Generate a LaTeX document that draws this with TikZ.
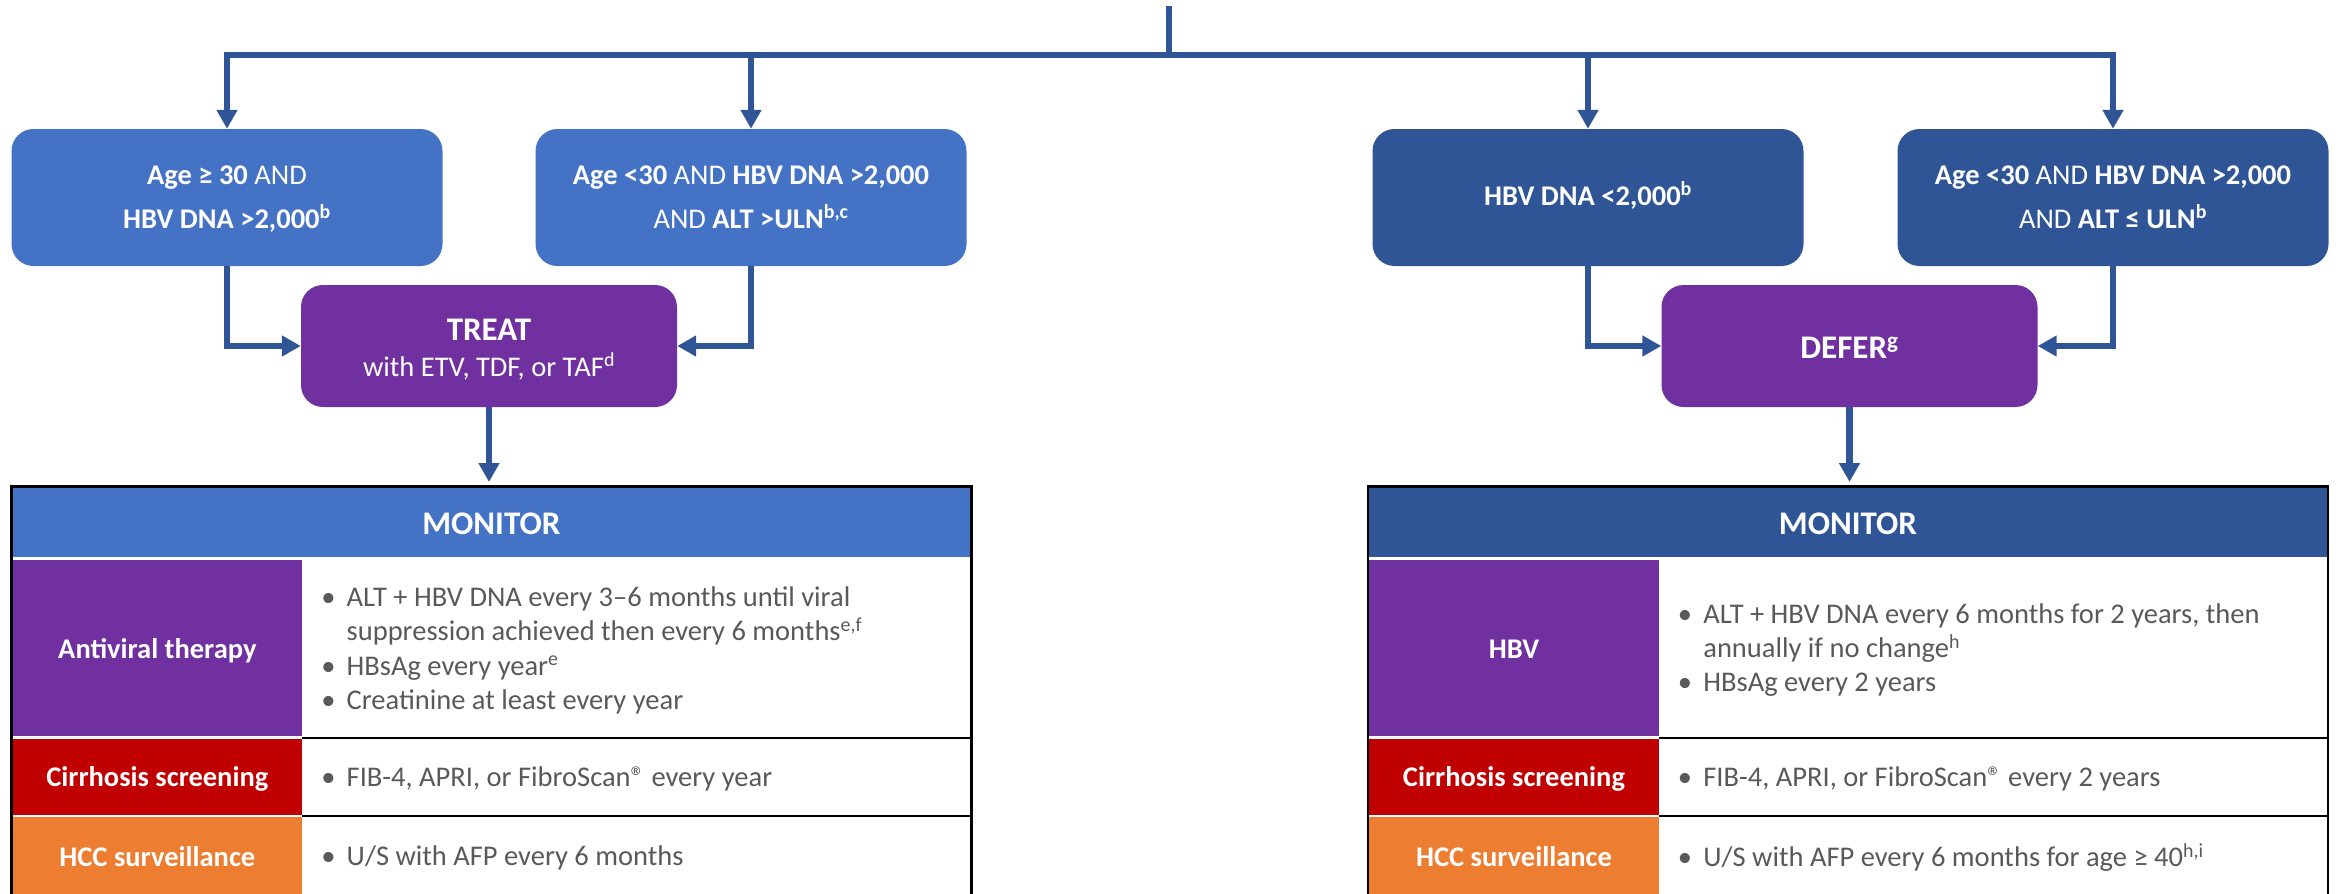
\documentclass[tikz,border=0pt]{standalone}
\usepackage{fontspec}
\setmainfont{Carlito}
\usetikzlibrary{arrows.meta}
\definecolor{lblue}{HTML}{4472C4}
\definecolor{dblue}{HTML}{2F5597}
\definecolor{purp}{HTML}{7030A0}
\definecolor{cred}{HTML}{C00000}
\definecolor{corange}{HTML}{ED7D31}
\definecolor{arrowc}{HTML}{2F5597}
\definecolor{txtgray}{HTML}{595959}
\newcommand{\bodyfont}{\fontsize{28.5}{34}\selectfont}
\newcommand{\bigfont}{\fontsize{33}{40}\selectfont}
\begin{document}
\begin{tikzpicture}[x=1pt,y=-1pt,
  cbox/.style={rounded corners=22pt, minimum width=431pt, minimum height=137pt, inner sep=0pt, draw=none},
  abox/.style={rounded corners=22pt, minimum width=376pt, minimum height=122pt, inner sep=0pt, fill=purp},
  wt/.style={text=white, font=\bodyfont, anchor=base, inner sep=0pt},
  wtb/.style={wt, font=\bodyfont\bfseries},
  big/.style={text=white, font=\bigfont\bfseries, anchor=base, inner sep=0pt},
  gt/.style={text=txtgray, font=\bodyfont, anchor=base west, inner sep=0pt},
  bul/.style={text=txtgray, font=\bodyfont, anchor=base, inner sep=0pt},
  conn/.style={draw=arrowc, line width=6.5pt},
  arr/.style={conn, -{Triangle[length=19pt,width=20pt]}},
  frame/.style={draw=black, line width=2.7pt},
  sep/.style={draw=black, line width=2pt},
]
\useasboundingbox (0,0) rectangle (2338,894);
\clip (0,0) rectangle (2338,894);

% condition boxes
\node[cbox, fill=lblue] (b1) at (227,197.5) {};
\node[cbox, fill=lblue] (b2) at (751,197.5) {};
\node[cbox, fill=dblue] (b3) at (1588,197.5) {};
\node[cbox, fill=dblue] (b4) at (2113,197.5) {};
\node[abox] (treat) at (489,346) {};
\node[abox] (defer) at (1849.5,346) {};

\node[wt] (b1t1) at (227,184.5) {\textbf{Age ≥ 30} AND};
\node[wt] (b1t2) at (227,228) {\textbf{HBV DNA >2,000\textsuperscript{b}}};
\node[wt] (b2t1) at (751,184.5) {\textbf{Age <30} AND \textbf{HBV DNA >2,000}};
\node[wt] (b2t2) at (751,228) {AND \textbf{ALT >ULN\textsuperscript{b,c}}};
\node[wt] (b3t1) at (1588,205) {\textbf{HBV DNA <2,000\textsuperscript{b}}};
\node[wt] (b4t1) at (2113,184.5) {\textbf{Age <30} AND \textbf{HBV DNA >2,000}};
\node[wt] (b4t2) at (2113,228) {AND \textbf{ALT ≤ ULN\textsuperscript{b}}};
\node[big] (treatt) at (489,340) {TREAT};
\node[wt] (treatt2) at (489,376) {with ETV, TDF, or TAF\textsuperscript{d}};
\node[big] (defert) at (1849.5,358) {DEFER\textsuperscript{g}};

% connectors
\coordinate (top) at (1169,6);
\coordinate (bus) at (1169,55);
\coordinate (m1) at (489,482);
\coordinate (m2) at (1849.5,482);
\draw[conn] (top) -- (bus);
\draw[conn, line cap=rect] (b1.north |- bus) -- (b4.north |- bus);
\draw[arr] (b1.north |- bus) -- (b1.north);
\draw[arr] (b2.north |- bus) -- (b2.north);
\draw[arr] (b3.north |- bus) -- (b3.north);
\draw[arr] (b4.north |- bus) -- (b4.north);
\draw[arr] (b1.south) |- (treat.west);
\draw[arr] (b2.south) |- (treat.east);
\draw[arr] (b3.south) |- (defer.west);
\draw[arr] (b4.south) |- (defer.east);
\draw[arr] (treat.south) -- (treat.south |- m1);
\draw[arr] (defer.south) -- (defer.south |- m2);

% left monitor table
\fill[lblue] (12.7,488) rectangle (970,557);
\fill[purp] (12.7,560) rectangle (302,736);
\fill[cred] (12.7,739) rectangle (302,814.5);
\fill[corange] (12.7,817) rectangle (302,910);
\draw[sep] (302,737.5) -- (970,737.5);
\draw[sep] (302,816) -- (970,816);
\draw[frame] (11.35,910) -- (11.35,486.35) -- (971.35,486.35) -- (971.35,910);
\node[big] (mon1) at (491.35,534) {MONITOR};
\node[wtb] (l1a) at (157.35,658.3) {Antiviral therapy};
\node[wtb] (l1b) at (157.35,786.7) {Cirrhosis screening};
\node[wtb] (l1c) at (157.35,866) {HCC surveillance};
\node[bul] (l1d1) at (328.4,606.7) {•};
\node[gt] (l1t1) at (346.5,606.7) {ALT + HBV DNA every 3–6 months until viral};
\node[gt] (l1t2) at (346.5,640.7) {suppression achieved then every 6 months\textsuperscript{e,f}};
\node[bul] (l1d3) at (328.4,675) {•};
\node[gt] (l1t3) at (346.5,675) {HBsAg every year\textsuperscript{e}};
\node[bul] (l1d4) at (328.4,709.3) {•};
\node[gt] (l1t4) at (346.5,709.3) {Creatinine at least every year};
\node[bul] (l1d5) at (328.4,786.7) {•};
\node[gt] (l1t5) at (346.5,786.7) {FIB-4, APRI, or FibroScan® every year};
\node[bul] (l1d6) at (328.4,865) {•};
\node[gt] (l1t6) at (346.5,865) {U/S with AFP every 6 months};

% right monitor table
\begin{scope}[shift={(1356.65,0)}]
\fill[dblue] (12.7,488) rectangle (970,557);
\fill[purp] (12.7,560) rectangle (302,736);
\fill[cred] (12.7,739) rectangle (302,814.5);
\fill[corange] (12.7,817) rectangle (302,910);
\draw[sep] (302,737.5) -- (970,737.5);
\draw[sep] (302,816) -- (970,816);
\draw[frame] (11.35,910) -- (11.35,486.35) -- (971.35,486.35) -- (971.35,910);
\node[big] (mon2) at (491.35,534) {MONITOR};
\node[wtb] (r1a) at (157.35,658.3) {HBV};
\node[wtb] (r1b) at (157.35,786.7) {Cirrhosis screening};
\node[wtb] (r1c) at (157.35,866.7) {HCC surveillance};
\node[bul] (r1d1) at (328.4,623.3) {•};
\node[gt] (r1t1) at (346.5,623.3) {ALT + HBV DNA every 6 months for 2 years, then};
\node[gt] (r1t2) at (346.5,657.7) {annually if no change\textsuperscript{h}};
\node[bul] (r1d3) at (328.4,691.7) {•};
\node[gt] (r1t3) at (346.5,691.7) {HBsAg every 2 years};
\node[bul] (r1d5) at (328.4,786.7) {•};
\node[gt] (r1t5) at (346.5,786.7) {FIB-4, APRI, or FibroScan® every 2 years};
\node[bul] (r1d6) at (328.4,866.7) {•};
\node[gt] (r1t6) at (346.5,866.7) {U/S with AFP every 6 months for age ≥ 40\textsuperscript{h,i}};
\end{scope}
\end{tikzpicture}
\end{document}
